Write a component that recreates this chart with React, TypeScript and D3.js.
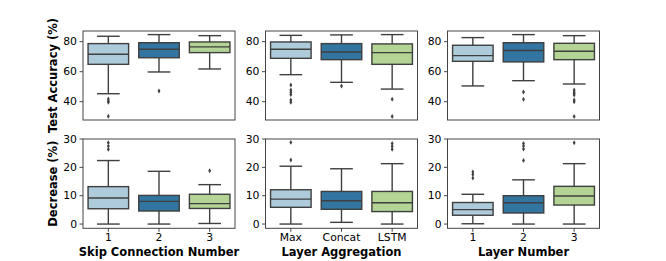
import React from "react";
import * as d3 from "d3";

// categories per column
const catsSkip = ["1", "2", "3"];
const catsAgg = ["Max", "Concat", "LSTM"];
const catsLayer = ["1", "2", "3"];
const xTitles = ["Skip Connection Number", "Layer Aggregation", "Layer Number"];
const yTitles = ["Test Accuracy (%)", "Decrease (%)"];

const accTicks = [40, 60, 80];
const decTicks = [0, 10, 20, 30];

// box stats: [lowWhisker, q1, median, q3, highWhisker]
const accSkip = [[45.3, 64.9, 71.6, 78.7, 83.6], [59.8, 69.3, 74.9, 79.3, 84.7], [61.8, 72.7, 76.5, 79.8, 84.0]];
const accSkipOut = [[41.8, 40.5, 39.6, 30.3], [47.1], []];
const accAgg = [[58.0, 68.9, 74.9, 79.8, 84.2], [52.9, 68.0, 73.1, 78.7, 84.5], [48.4, 64.9, 72.7, 78.5, 84.7]];
const accAggOut = [[51.1, 47.8, 46.3, 44.7, 41.1, 39.6], [50.5], [41.6, 30.1]];
const accLayer = [[50.5, 66.9, 70.7, 77.6, 82.7], [54.0, 66.5, 74.1, 79.3, 84.7], [51.8, 68.0, 73.6, 78.9, 84.0]];
const accLayerOut = [[], [46.5, 41.6], [47.8, 46.5, 45.4, 44.5, 41.1, 40.0, 30.1]];

const decSkip = [[0, 5.4, 9.2, 13.2, 22.4], [0, 4.6, 8.0, 10.1, 18.6], [0.2, 5.5, 7.2, 10.5, 13.9]];
const decSkipOut = [[28.7, 27.5, 26.4], [], [18.8]];
const decAgg = [[0, 5.9, 8.8, 12.1, 20.4], [0.6, 5.2, 8.2, 11.5, 19.5], [0, 4.4, 7.5, 11.5, 21.3]];
const decAggOut = [[22.6, 28.8], [], [28.4, 27.4, 26.4]];
const decLayer = [[0.1, 3.1, 5.1, 7.6, 10.5], [0, 3.9, 7.5, 10.0, 15.6], [0, 6.7, 9.9, 13.3, 21.3]];
const decLayerOut = [[18.4, 17.5, 16.2], [28.4, 27.5, 26.5, 22.4], [28.7]];

const palette = ["#aecbdb", "#3275a1", "#b3d495"];
const lineColor = "#3f3f3f";

const W = 666, H = 261;
const panelLefts = [83, 265.5, 447.5];
const panelW = 152;
const rows = [
  { y0: 31, y1: 120, domain: [27.8, 87.1], ticks: accTicks, boxes: [accSkip, accAgg, accLayer], outs: [accSkipOut, accAggOut, accLayerOut] },
  { y0: 139, y1: 228.3, domain: [-1.5, 30.0], ticks: decTicks, boxes: [decSkip, decAgg, decLayer], outs: [decSkipOut, decAggOut, decLayerOut] },
];
const catSets = [catsSkip, catsAgg, catsLayer];
const font = "DejaVu Sans";
const diamond = d3.symbol().type(d3.symbolDiamond).size(7)();

export default function App() {
  return (
    <svg width={W} height={H} style={{ position: "absolute", left: 0, top: 0 }} fontFamily={font}>
      <rect width={W} height={H} fill="white" />
      {rows.map((row, ri) => {
        const y = d3.scaleLinear().domain(row.domain).range([row.y1, row.y0]);
        return (
          <g key={ri}>
            <text
              transform={`translate(53,${(row.y0 + row.y1) / 2}) rotate(-90)`}
              textAnchor="middle" dominantBaseline="central" fontSize={11.5} fontWeight="bold"
            >{yTitles[ri]}</text>
            {panelLefts.map((px, ci) => {
              const x = d3.scaleBand().domain(catSets[ci]).range([px, px + panelW]).paddingInner(0.2).paddingOuter(0.1);
              const bw = x.bandwidth();
              const cap = bw * 0.28;
              return (
                <g key={ci}>
                  {row.ticks.map(t => (
                    <g key={t}>
                      <line x1={px - 3.5} x2={px} y1={y(t)} y2={y(t)} stroke="#333" strokeWidth={0.9} />
                      <text x={px - 6} y={y(t)} textAnchor="end" dominantBaseline="central" fontSize={10.8}>{t}</text>
                    </g>
                  ))}
                  {row.boxes[ci].map((b, k) => {
                    const cat = catSets[ci][k];
                    const cx = x(cat)! + bw / 2;
                    const [lo, q1, med, q3, hi] = b;
                    return (
                      <g key={k} stroke={lineColor} strokeWidth={1.4}>
                        <line x1={cx} x2={cx} y1={y(q1)} y2={y(lo)} />
                        <line x1={cx} x2={cx} y1={y(q3)} y2={y(hi)} />
                        <line x1={cx - cap} x2={cx + cap} y1={y(lo)} y2={y(lo)} />
                        <line x1={cx - cap} x2={cx + cap} y1={y(hi)} y2={y(hi)} />
                        <rect x={x(cat)!} width={bw} y={y(q3)} height={y(q1) - y(q3)} fill={palette[k]} />
                        <line x1={x(cat)!} x2={x(cat)! + bw} y1={y(med)} y2={y(med)} />
                        {row.outs[ci][k].map((o, oi) => (
                          <path key={oi} d={diamond} transform={`translate(${cx},${y(o)})`} fill={lineColor} stroke="none" />
                        ))}
                      </g>
                    );
                  })}
                  <rect x={px} y={row.y0} width={panelW} height={row.y1 - row.y0} fill="none" stroke="#444" strokeWidth={1} />
                  {ri === 1 && catSets[ci].map(c => (
                    <g key={c}>
                      <line x1={x(c)! + bw / 2} x2={x(c)! + bw / 2} y1={row.y1} y2={row.y1 + 3.5} stroke="#333" strokeWidth={0.9} />
                      <text x={x(c)! + bw / 2} y={237.7} textAnchor="middle" dominantBaseline="central" fontSize={10.8}>{c}</text>
                    </g>
                  ))}
                  {ri === 1 && (
                    <text x={px + panelW / 2} y={251.7} textAnchor="middle" dominantBaseline="central" fontSize={11.5} fontWeight="bold">{xTitles[ci]}</text>
                  )}
                </g>
              );
            })}
          </g>
        );
      })}
    </svg>
  );
}
